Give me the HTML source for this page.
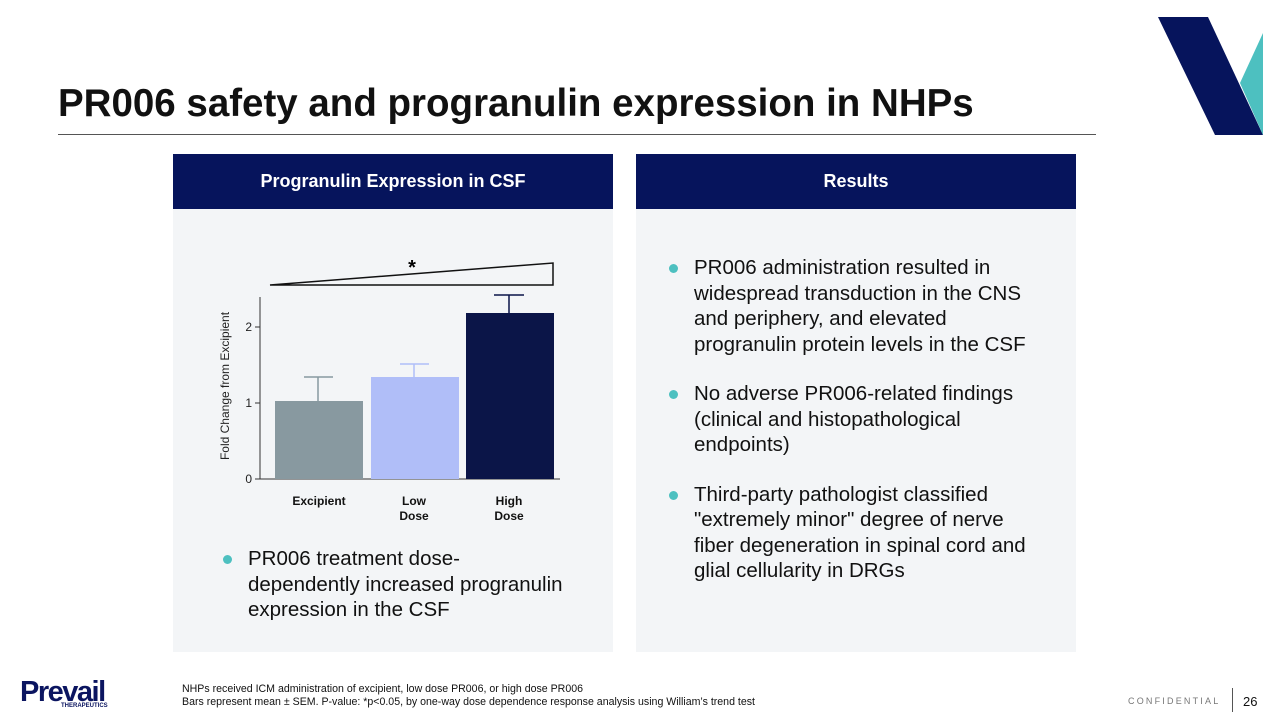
<!DOCTYPE html>
<html><head><meta charset="utf-8"><style>
body{margin:0;width:1280px;height:720px;background:#fff;position:relative;overflow:hidden;font-family:"Liberation Sans",sans-serif}
.a{position:absolute}
.hdr{background:#06145c;color:#fff;font-weight:bold;font-size:18px;text-align:center;line-height:55px}
.panel{background:#f3f5f7}
ul{margin:0;padding:0;list-style:none}
li{position:relative;padding-left:28px;font-size:20.5px;line-height:25.5px;color:#111;margin-bottom:24px}
li:before{content:"";position:absolute;left:3px;top:9px;width:9px;height:9px;border-radius:50%;background:#4dc0c0}
</style></head><body>
<div class="a" style="left:58px;top:82px;font-size:38.5px;font-weight:bold;color:#111">PR006 safety and progranulin expression in NHPs</div>
<div class="a" style="left:58px;top:134px;width:1038px;height:1px;background:#555"></div>
<svg class="a" style="left:1150px;top:10px" width="130" height="130"><polygon points="8,7 58,7 113,125 65,125" fill="#06145c"/><polygon points="90,73 113,23 113,125" fill="#4dc0c0"/></svg>
<div class="a panel" style="left:173px;top:154px;width:440px;height:498px"></div>
<div class="a hdr" style="left:173px;top:154px;width:440px">Progranulin Expression in CSF</div>
<div class="a panel" style="left:636px;top:154px;width:440px;height:498px"></div>
<div class="a hdr" style="left:636px;top:154px;width:440px">Results</div>
<svg class="a" style="left:0;top:0" width="640" height="540">
<polygon points="270,285 553,263 553,285" fill="none" stroke="#111" stroke-width="1.5"/>
<text x="412" y="274" font-size="20" font-weight="bold" text-anchor="middle" font-family="Liberation Sans">*</text>
<line x1="260" y1="297" x2="260" y2="479" stroke="#333"/>
<line x1="260" y1="479" x2="560" y2="479" stroke="#333"/>
<line x1="255" y1="479" x2="260" y2="479" stroke="#333"/><line x1="255" y1="403" x2="260" y2="403" stroke="#333"/><line x1="255" y1="327" x2="260" y2="327" stroke="#333"/>
<g font-size="12" font-family="Liberation Sans" text-anchor="end" fill="#222"><text x="252" y="483">0</text><text x="252" y="407">1</text><text x="252" y="331">2</text></g>
<text transform="translate(229,386) rotate(-90)" font-size="12" text-anchor="middle" font-family="Liberation Sans" fill="#222">Fold Change from Excipient</text>
<rect x="275" y="401" width="88" height="78" fill="#8899a0"/>
<rect x="371" y="377" width="88" height="102" fill="#b0bef8"/>
<rect x="466" y="313" width="88" height="166" fill="#0b1548"/>
<g stroke-width="1.5"><path d="M318,401V377M304,377H333" stroke="#8899a0"/><path d="M414,377V364M400,364H429" stroke="#b0bef8"/><path d="M509,313V295M494,295H524" stroke="#0b1548"/></g>
<g font-size="12" font-weight="bold" font-family="Liberation Sans" text-anchor="middle" fill="#111"><text x="319" y="505">Excipient</text><text x="414" y="505">Low</text><text x="414" y="520">Dose</text><text x="509" y="505">High</text><text x="509" y="520">Dose</text></g>
</svg>
<ul class="a" style="left:220px;top:546px;width:345px"><li>PR006 treatment dose-dependently increased progranulin expression in the CSF</li></ul>
<ul class="a" style="left:666px;top:255px;width:370px"><li>PR006 administration resulted in widespread transduction in the CNS and periphery, and elevated progranulin protein levels in the CSF</li><li>No adverse PR006-related findings (clinical and histopathological endpoints)</li><li>Third-party pathologist classified "extremely minor" degree of nerve fiber degeneration in spinal cord and glial cellularity in DRGs</li></ul>
<div class="a" style="left:20px;top:676px;font-size:29px;font-weight:900;color:#0b1560;letter-spacing:-1.5px">Prevail</div>
<div class="a" style="left:61px;top:703px;font-size:6px;font-weight:bold;color:#0b1560">THERAPEUTICS</div>
<div class="a" style="left:182px;top:683px;font-size:10.6px;line-height:13px;color:#111">NHPs received ICM administration of excipient, low dose PR006, or high dose PR006<br>Bars represent mean ± SEM. P-value: *p&lt;0.05, by one-way dose dependence response analysis using William’s trend test</div>
<div class="a" style="left:1128px;top:696px;font-size:9px;letter-spacing:2.2px;color:#777">CONFIDENTIAL</div>
<div class="a" style="left:1232px;top:688px;width:1px;height:24px;background:#555"></div>
<div class="a" style="left:1243px;top:694px;font-size:13px;color:#111">26</div>
</body></html>
